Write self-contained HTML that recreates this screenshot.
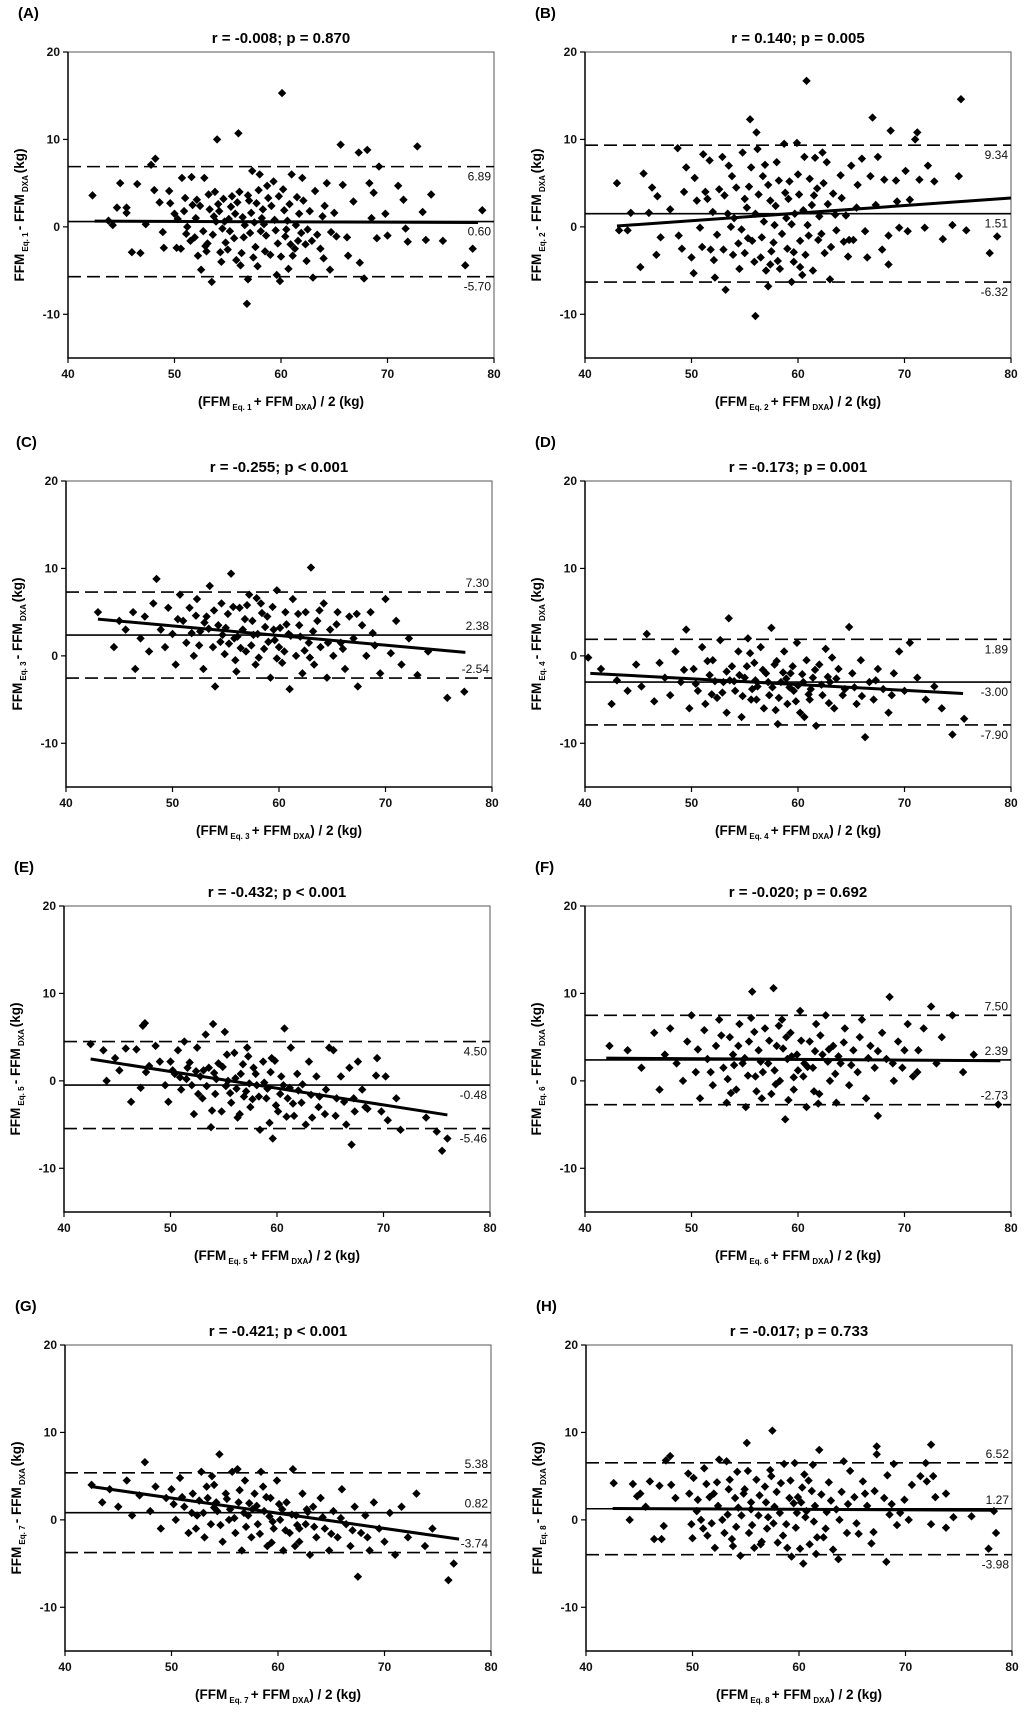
<!DOCTYPE html>
<html><head><meta charset="utf-8">
<style>
html,body{margin:0;padding:0;background:#fff;}
svg{display:block;font-family:"Liberation Sans",Arial,sans-serif;}
</style></head>
<body>
<svg id="fig" width="1024" height="1712" viewBox="0 0 1024 1712" xmlns="http://www.w3.org/2000/svg"></svg>
<script>
const xTicks = [40, 50, 60, 70, 80];
const yTicks = [20, 10, 0, -10];
const panelLetters = ["A","B","C","D","E","F","G","H"];
const titles = ["r = -0.008; p = 0.870","r = 0.140; p = 0.005","r = -0.255; p < 0.001","r = -0.173; p = 0.001","r = -0.432; p < 0.001","r = -0.020; p = 0.692","r = -0.421; p < 0.001","r = -0.017; p = 0.733"];
const meanDiff = [0.60, 1.51, 2.38, -3.00, -0.48, 2.39, 0.82, 1.27];
const upperLoA = [6.89, 9.34, 7.30, 1.89, 4.50, 7.50, 5.38, 6.52];
const lowerLoA = [-5.70, -6.32, -2.54, -7.90, -5.46, -2.73, -3.74, -3.98];
const regStart = [[42.5,0.65],[43,0.1],[43,4.2],[40.5,-2.0],[42.5,2.5],[42,2.6],[42.5,3.8],[42.5,1.3]];
const regEnd = [[78.5,0.5],[80,3.3],[77.5,0.4],[75.5,-4.3],[76,-3.9],[79,2.3],[77,-2.2],[78.5,1.1]];

const ptsA = [[42.3,3.6],[43.8,0.7],[44.2,0.2],[44.6,2.2],[44.9,5],[45.5,1.6],[45.5,2.2],[46,-2.9],[46.5,4.9],[46.8,-3],[47.3,0.3],[47.8,7.1],[48.2,7.8],[48.1,4.2],[48.6,2.8],[48.9,-0.6],[49,-2.4],[49.5,4.1],[49.6,2.7],[50,1.5],[50.2,-2.4],[50.6,-2.5],[50.7,5.6],[51,3.3],[51.2,0],[51.5,-1.6],[51.6,5.7],[51.7,2.5],[52,1],[52.2,-3.3],[52.5,-4.9],[52.7,-0.5],[52.8,5.6],[53,-2.8],[53.3,2],[53.5,-6.3],[53.6,-0.9],[53.8,4],[54,10],[54.2,1.8],[54.4,-4],[54.6,3.2],[55,-2.6],[55.2,-0.5],[55.4,3.5],[55.7,1.5],[56,10.7],[56.2,-4.4],[56.5,-1.2],[56.8,-8.8],[56.9,-6],[57,3],[57.3,6.4],[57.5,0.5],[57.8,-4.5],[58,6],[58.3,2],[58.6,-1],[59,-3.2],[59.3,5.2],[59.6,-5.5],[59.9,-6.2],[60.1,15.3],[60.2,4.3],[60.5,-0.3],[60.7,-4.8],[61,6],[61.3,-2.5],[61.7,1.5],[62,5.6],[62.3,-2],[62.7,1.8],[63,-5.8],[63.2,4.1],[63.7,-2.5],[64,-3.6],[64.3,5],[64.6,-4.9],[65,1.6],[65.2,-1.1],[65.6,9.4],[65.8,4.8],[66.3,-3.3],[66.8,2.9],[67.3,8.5],[67.4,-4.1],[67.8,-5.9],[68.1,8.8],[68.3,5],[68.5,1],[68.7,3.9],[69,-1.3],[69.2,6.9],[69.8,1.5],[70,-1],[71,4.7],[71.5,3.1],[71.7,-0.2],[71.9,-1.7],[72.8,9.2],[73.3,1.7],[73.6,-1.5],[74.1,3.7],[75.2,-1.6],[77.3,-4.4],[78,-2.5],[78.9,1.9],[52.4,2.4],[53.9,0.6],[54.8,-1.8],[55.9,2.8],[56.6,0.2],[57.6,-2.3],[58.8,3.3],[59.4,0.8],[60.8,2.6],[61.9,-0.7],[62.9,-1.6],[63.9,1.2],[55.1,0.9],[56.3,-3],[58.1,-0.5],[59.7,-1.9],[60.3,1.9],[61.5,3.4],[57.2,1.6],[54.3,-2.9],[51.9,-1.2],[50.9,1.8],[64.7,-0.6],[66.2,-1.2],[53.2,3.7],[57.9,4.2],[60,-3.4],
[50.3,0.9],[51.1,-0.8],[52.1,3.1],[53.1,-1.9],[53.7,1.2],[54.5,-0.2],[55.3,2.3],[55.6,-1.3],[56.1,4],[56.4,1.1],[57.1,-0.7],[57.4,-3.5],[58.2,1],[58.5,-2.8],[59.1,2.4],[59.5,-0.4],[60.4,-1.1],[60.6,0.7],[61.1,-3.3],[61.4,0.2],[62.1,3],[62.5,-0.3],[63.4,-0.9],[64.1,2.4],[54.1,2.6],[56.9,3.6],[58.7,4.7],[60.9,-2],[52.9,-2.2],[55.8,-3.8],[59.8,3.5],[62.4,-3.9],[57.7,2.7],[58.4,0.3],[61.6,-1.6],[54.7,0.6]];
const ptsB = [[43,5],[43.2,-0.4],[44,-0.4],[44.3,1.6],[45.2,-4.6],[45.5,6.1],[46,1.6],[46.3,4.5],[46.7,-3.2],[46.8,3.5],[47.1,-1.2],[48,2],[48.7,9],[48.8,-1],[49.1,-2.5],[49.3,4],[49.5,6.8],[50,-3.5],[50.2,-5.3],[50.3,5.6],[50.5,3],[50.8,-0.1],[51,-2.3],[51.1,8.3],[51.3,4],[51.7,7.6],[51.8,-2.6],[52,1.7],[52.1,-3.8],[52.2,-5.8],[52.6,4.3],[52.9,8],[53,-2.6],[53.2,-7.2],[53.5,7],[53.7,0],[53.9,-3.2],[54.2,4.5],[54.5,-4.8],[54.8,8.5],[55,3.2],[55.3,-1.3],[55.5,12.3],[55.6,6.8],[55.9,-4],[56,-10.2],[56.1,10.8],[56.2,8.9],[56.5,-3.5],[56.7,5.8],[57,-5],[57.2,-6.8],[57.4,3],[57.7,-1.8],[58,7.4],[58.3,-4.8],[58.7,9.5],[58.9,1],[59,-2.5],[59.2,5.2],[59.4,-6.3],[59.6,-4],[59.9,9.6],[60.1,3.7],[60.4,-5.5],[60.6,8],[60.8,16.7],[60.9,0.2],[61.1,5.5],[61.4,-5],[61.6,7.9],[61.9,-1.5],[62.3,8.5],[62.5,-3],[62.7,7.4],[63,-6],[63.3,3.8],[63.6,-0.4],[64,5.9],[64.3,-1.7],[64.7,-3.4],[65,7],[65.2,-1.5],[65.6,4.8],[66,7.8],[66.3,-0.5],[66.8,5.8],[67,12.5],[67.5,8],[67.9,-2.6],[68.1,5.4],[68.5,-4.3],[68.7,11],[69.2,5.3],[69.5,-0.1],[70.1,6.4],[70.3,-0.5],[71,10],[71.2,10.8],[71.4,5.4],[71.9,-0.1],[72.2,7],[72.8,5.2],[73.6,-1.4],[74.5,0.2],[75.1,5.8],[75.3,14.6],[75.8,-0.4],[78,-3],[78.7,-1.1],[54,1],[55.2,2.2],[56.8,0.6],[57.9,2.4],[58.5,-0.8],[59.7,1.5],[60.2,-1.6],[61.3,2.5],[62,1.2],[63.1,-2.3],[57.5,-2.8],[55.7,-1.6],[54.4,-1.9],[53.4,1.5],[59.1,3.2],[60.7,-3.2],[61.8,4.4],[58.2,5.3],[56.3,3.7],[64.5,1.3],
[51.5,3.2],[52.4,-0.9],[53.1,3.6],[54.7,-0.3],[55.4,4.6],[56,1.5],[56.6,-1.2],[57.2,4.8],[57.8,0.2],[58.1,-3.9],[58.8,3.9],[59.4,0.3],[60,6],[60.5,1.9],[61,-1],[61.5,3.6],[62.2,-0.8],[62.8,2.6],[63.5,1.4],[64.1,3.3],[64.8,-1.5],[65.5,2.2],[66.5,-3.5],[67.3,2.5],[68.5,-1],[69.3,2.9],[70.5,3.1],[53.8,5.8],[56.9,7.1],[59.6,-2.9],[62.4,5],[57.4,-4.3],[60.2,-4.6],[55,-3]];
const ptsC = [[43,5],[44.5,1],[45,4],[45.6,3],[46.3,5],[46.5,-1.5],[47,2],[47.4,4.5],[47.8,0.5],[48.2,6],[48.5,8.8],[48.9,3],[49.3,1],[49.6,5.5],[50,2.5],[50.3,-1],[50.7,7],[51,4],[51.3,1.5],[51.6,5.5],[52,0],[52.3,6.5],[52.6,2.8],[52.9,-1.5],[53.2,4.5],[53.5,8],[53.8,1],[54,-3.5],[54.3,3.5],[54.6,6],[54.9,0.2],[55.2,4.8],[55.5,9.4],[55.8,2],[56,-1.8],[56.3,5.5],[56.6,3],[56.9,0.5],[57.2,7],[57.5,4],[57.8,-1],[58,2.5],[58.3,6],[58.6,0.8],[58.9,4.5],[59.2,-2.5],[59.5,3],[59.8,7.5],[60,1],[60.3,-0.8],[60.6,5],[60.9,2.5],[61,-3.8],[61.3,6.5],[61.6,0],[61.9,3.5],[62.2,-2],[62.5,5],[62.8,1.5],[63,10.1],[63.3,-1],[63.6,4],[63.9,1],[64.2,6],[64.5,-2.5],[64.8,3],[65.1,0],[65.5,5],[65.8,1.5],[66.2,-1.5],[66.6,4.5],[67,2],[67.4,-3.5],[67.8,3.5],[68.2,0],[68.6,5],[69,1.2],[69.5,-2],[70,6.5],[70.5,0.3],[71,4],[71.5,-1],[72.2,2],[73,-2.2],[74,0.5],[75.8,-4.8],[77.4,-4.1],[56.1,2.2],[57.4,1.2],[58.7,3.3],[59.6,1.8],[60.7,3.6],[54.7,2.4],[53.4,3.1],[62,2.2],[55.3,1.4],[58.1,-0.2],
[50.5,4.2],[51.8,2.6],[52.5,1.2],[53,3.8],[53.9,5.2],[54.5,1.6],[55,3.2],[55.7,5.6],[56.4,0.9],[56.8,4.2],[57.6,2.4],[58.4,4.9],[59,1.6],[59.4,5.6],[60.1,3.2],[60.5,0.5],[61.1,2.3],[61.8,4.8],[62.4,0.6],[63.2,2.8],[63.8,5.2],[64.6,1.5],[65.4,3.6],[66,0.8],[67.3,4.8],[68.8,2.6],[57,5.8],[55.9,-0.5],[59.8,-0.3],[62.9,-0.2],[52.2,4.6],[57.9,6.6]];
const ptsD = [[40.3,-0.2],[41.5,-1.5],[42.5,-5.5],[43,-2.8],[44,-4],[44.8,-1],[45.3,-3.5],[45.8,2.5],[46.5,-5.2],[47,-0.8],[47.5,-2.5],[48,-4.5],[48.5,0.5],[49,-3],[49.5,3],[49.8,-6],[50.2,-1.5],[50.6,-4],[51,1],[51.3,-5.5],[51.7,-2.2],[52,-0.5],[52.4,-4.8],[52.7,1.8],[53,-3],[53.3,-6.5],[53.5,4.3],[53.8,-1.2],[54.1,-4],[54.4,0.5],[54.7,-7],[55,-2.5],[55.3,2],[55.6,-5],[55.9,-0.8],[56.2,-3.5],[56.5,1],[56.8,-6],[57,-2],[57.3,-4.5],[57.5,3.2],[57.8,-1],[58.1,-7.8],[58.4,-3],[58.7,0.5],[59,-5.5],[59.3,-2],[59.6,-4],[59.9,1.5],[60.2,-6.5],[60.5,-3],[60.8,-0.5],[61.1,-5],[61.4,-2.5],[61.7,-8],[62,-1],[62.3,-4.5],[62.6,0.8],[63,-3],[63.4,-6],[63.8,-1.5],[64.2,-4.5],[64.8,3.3],[65.1,-2],[65.5,-5.5],[65.9,-0.5],[66.3,-9.3],[66.7,-3],[67.1,-5],[67.5,-1.5],[68,-3.8],[68.5,-6.5],[69,-2],[69.5,0.5],[70,-4],[70.5,1.5],[71.2,-2.5],[72,-5],[72.8,-3.5],[73.5,-6],[74.5,-9],[75.6,-7.2],[56,-2.8],[57.6,-3.6],[58.9,-2.6],[60,-3.4],[61.2,-3.8],[54.5,-2.2],[55.7,-3.8],[62.8,-2.4],[59.5,-1.2],[58,-0.6],[53.6,-2.8],
[50.4,-3.2],[51.5,-0.6],[52.2,-2.9],[52.9,-4.2],[53.3,-1.8],[54,-2.9],[54.8,-4.6],[55.2,-1.2],[56.1,-5],[56.7,-1.6],[57.2,-3],[58.2,-4.8],[58.6,-1.9],[59.2,-3.6],[59.8,-5.2],[60.4,-2.1],[61,-4.4],[61.6,-1.6],[62.2,-3.3],[62.9,-5.4],[63.6,-2.6],[64.4,-3.8],[65.3,-3.6],[66,-4.6],[67.3,-2.8],[68.8,-4.5],[55.5,0.3],[57.9,-6.2],[60.6,-7],[63.2,-0.2],[49.3,-1.6],[51.9,-4.4]];
const ptsE = [[42.5,4.2],[43.7,3.5],[44,0],[44.8,2.6],[45.2,1.2],[45.8,3.7],[46.3,-2.4],[46.8,3.6],[47.2,-0.8],[47.4,6.3],[47.6,6.6],[47.7,1],[48,1.7],[48.6,4],[49,2.2],[49.5,-0.5],[49.8,-2.4],[50,2.2],[50.4,0.8],[50.7,3.5],[51,-1],[51.3,4.5],[51.6,1.5],[52,-0.5],[52.2,-3.8],[52.5,3.8],[52.8,0.5],[53,-2],[53.3,5.3],[53.6,1.5],[53.8,-5.3],[54,6.5],[54.2,-1.5],[54.5,2],[54.8,-3.5],[55.1,5.6],[55.4,0],[55.7,-2.5],[56,3.2],[56.3,-4.2],[56.6,0.8],[56.9,-1.8],[57.2,3.8],[57.5,-3],[57.8,1.5],[58.1,-0.5],[58.4,-5.6],[58.7,2.2],[59,-2],[59.3,-4.8],[59.6,-6.6],[59.8,2.3],[60.1,-3.5],[60.4,0.5],[60.7,6],[61,-2],[61.3,3.8],[61.6,-4],[61.9,0.8],[62.3,-2.5],[62.7,-5],[63,2.2],[63.3,-4.2],[63.7,0.5],[64,-1.8],[64.5,-3.8],[64.9,3.8],[65.3,3.5],[65.6,-2],[66,0.5],[66.5,-5],[66.8,1.5],[67,-7.3],[67.3,-3.5],[67.6,2.2],[68,-1],[68.5,-3.2],[69.3,0.6],[69.4,2.6],[69.8,-3.5],[70.2,0.5],[70.4,-4.5],[71.2,-2],[71.6,-5.6],[74,-4.2],[75,-5.8],[75.5,-8],[76,-6.6],[55.2,-0.6],[56.1,0.3],[57.1,-1.2],[58,0.8],[59.1,-0.9],[60.3,-1.5],[54.1,0.9],[53.1,1.2],[51.5,0.2],[57.7,-2.1],[61.2,-0.8],[62,-1.1],
[50.2,1.2],[50.9,0.4],[51.8,2.1],[52.4,1.1],[53.4,-0.6],[54.3,0.2],[54.9,1.6],[55.6,-1.4],[56.2,-0.9],[56.8,1.9],[57.4,-0.3],[58.3,-1.8],[58.8,-0.2],[59.4,1],[59.9,-2.8],[60.6,-0.5],[61.5,-2.6],[62.4,-0.4],[63.2,-1.6],[63.9,-3],[64.6,-1],[65.5,-4],[66.3,-2.4],[67.2,-2],[68.3,-3],[55.3,3],[57.3,2.8],[59.5,2.6],[53.9,-3.4],[56.5,-3.8],[60.9,-4.1],[52.6,-1.5]];
const ptsF = [[42.3,4],[44,3.5],[45.3,1.5],[46.5,5.5],[47,-1],[47.5,3],[48,6],[48.6,2],[49.2,0],[49.6,4.5],[50,7.5],[50.4,1],[50.8,-2],[51.2,5.8],[51.5,2.5],[52,-0.5],[52.3,4],[52.6,7],[53,1.5],[53.3,-2.5],[53.6,5],[53.9,3],[54.2,-1],[54.5,6.5],[54.8,2],[55.1,-3],[55.4,4.5],[55.7,10.2],[56,0.5],[56.3,3.5],[56.6,-2],[56.9,6],[57.2,2],[57.5,-1.5],[57.7,10.6],[58,4],[58.3,0],[58.5,7],[58.8,-4.4],[59,2.5],[59.3,5.5],[59.6,-1],[59.9,3],[60.2,8],[60.5,0.5],[60.8,-3],[61.1,4.5],[61.4,1.5],[61.7,6.5],[62,-1.5],[62.3,3],[62.6,7.5],[63,0],[63.3,4],[63.6,-2.5],[64,2],[64.4,6],[64.8,-0.5],[65.2,3.5],[65.6,1],[66,7],[66.4,-2],[66.8,4],[67.2,1.5],[67.5,-4],[67.9,5.5],[68.3,2.5],[68.6,9.6],[69,0],[69.4,4.5],[69.8,1.5],[70.3,6.5],[70.8,0.5],[71.3,3.5],[71.8,6],[72.5,8.5],[73,2],[73.5,5],[74.5,7.5],[75.5,1],[76.5,3],[78.8,-2.7],[56.5,2.2],[57.8,1.2],[59.4,2.8],[60.6,2],[61.6,3.4],[55,2.6],[58.6,3.7],[62.8,2.2],[54,1.8],[63.8,2.8],[60,1.2],
[50.6,3.6],[51.8,1],[52.8,5.2],[53.4,0.2],[54.4,4],[55.3,0.6],[55.9,5.6],[56.7,1],[57.3,4.6],[57.9,-0.4],[58.9,5],[59.6,0.4],[60.3,4.6],[60.9,1.6],[61.5,-1.2],[62.1,5.2],[62.9,3.6],[63.5,0.8],[64.3,4.4],[65,1.8],[65.8,5],[66.6,2.6],[67.5,3.4],[68.9,2],[70,3.5],[71.2,1],[56.1,-1.2],[59.1,-2.2],[61.9,-2.6],[53.7,-1.4],[58.2,6.3],[55.6,7.2]];
const ptsG = [[42.5,4],[43.5,2],[44.2,3.5],[45,1.5],[45.8,4.5],[46.3,0.5],[47,2.8],[47.5,6.6],[48,1],[48.5,3.8],[49,-1],[49.5,2.5],[50,3.5],[50.4,0],[50.8,4.8],[51.2,1.5],[51.6,-1.5],[52,3],[52.4,0.5],[52.8,5.5],[53.1,-2],[53.4,2.5],[53.7,-0.5],[54,4],[54.3,1],[54.5,7.5],[54.8,-2.5],[55.1,3],[55.4,0],[55.7,5.5],[56,-1.5],[56.3,2],[56.6,-3.5],[56.9,4.5],[57.2,0.5],[57.5,-2],[57.8,3],[58.1,-0.5],[58.4,5.5],[58.7,1],[59,-3],[59.3,2.5],[59.6,-1],[59.9,4.5],[60.2,0],[60.5,-3.5],[60.8,2],[61.1,-1.5],[61.4,5.8],[61.7,0.5],[62,-2.5],[62.3,3],[62.6,-0.5],[63,-4],[63.3,1.5],[63.6,-2],[64,2.5],[64.4,-1],[64.8,-3.5],[65.2,1],[65.6,-2],[66,3.5],[66.4,-0.5],[66.8,-3],[67.2,1.5],[67.5,-6.5],[67.8,-1.5],[68.2,0.5],[68.6,-3.5],[69,2],[69.5,-1],[70,-2.5],[70.5,0.8],[71,-4],[71.6,1.5],[72.2,-2],[73,3],[73.8,-3],[74.5,-1],[76,-6.9],[76.5,-5],[55.5,1.2],[56.8,0.8],[58,1.6],[59.2,0.4],[60.4,1.2],[57.3,1.9],[54.2,2],[53,0.8],[61.8,-0.6],[62.8,0.9],
[50.2,1.8],[51,2.6],[51.9,0.8],[52.6,2.2],[53.3,3.8],[54,1.4],[54.6,-0.6],[55.2,2.4],[55.9,0.2],[56.4,3.4],[57,-0.8],[57.6,1.2],[58.3,-1.6],[58.9,2.6],[59.5,-0.2],[60.1,1.8],[60.7,-1.2],[61.3,0.6],[62,-1],[62.7,1.2],[63.4,-0.8],[64.2,0.3],[65,-1.6],[65.9,0.2],[67,-1.2],[68.4,-2],[53.8,5],[56.2,5.8],[59.4,-2.6],[61.6,-3],[52.3,-1],[58.6,3.8]];
const ptsH = [[42.6,4.2],[44.1,0],[44.4,4.1],[44.8,2.7],[45.1,3],[45.6,1.5],[46,4.4],[46.4,-2.2],[46.9,3.9],[47.1,-2.2],[47.3,-0.7],[47.5,6.8],[47.9,7.3],[48,4],[48.4,2.5],[49.6,5.3],[49.7,3],[49.9,-0.5],[50,-2.1],[50.1,4.8],[50.5,2.3],[50.8,0],[51,-1],[51.1,5.9],[51.3,4.1],[51.6,2.6],[51.8,-0.4],[52,3],[52.1,-3.2],[52.3,4.3],[52.5,6.9],[52.8,0],[53,-1.5],[53.2,6.7],[53.4,3.5],[53.7,-2.2],[54,2.5],[54.2,5.5],[54.5,-4.1],[54.6,0.5],[54.9,3.5],[55.1,8.8],[55.3,-1.5],[55.5,2],[55.8,-3.2],[56,4.6],[56.2,0.5],[56.5,-2.5],[56.8,3.8],[57,-1],[57.3,5.7],[57.5,10.2],[57.7,1.5],[58,-2.6],[58.3,4.2],[58.6,6.4],[58.8,-0.5],[59.1,2.5],[59.3,-4.2],[59.6,6.5],[59.8,0.8],[60.1,-3.3],[60.3,3.7],[60.4,-5],[60.7,1],[61,-2.8],[61.3,6.3],[61.6,-3.9],[61.9,8],[62.1,2.9],[62.5,-1],[62.8,4.3],[63.2,-3.4],[63.5,1.2],[63.7,-4.5],[64,3.2],[64.2,6.7],[64.5,-1.5],[64.8,5.6],[65.2,2.6],[65.6,-1.6],[66,4.4],[66.4,1.6],[66.8,-2.7],[67.1,3.3],[67.3,8.4],[67.3,7.5],[68,2.5],[68.2,-4.8],[68.3,5.1],[68.5,0.6],[68.9,6.4],[69.2,-0.6],[69.9,2.3],[70.3,0],[70.6,4],[71.4,5],[71.9,6.5],[72,4.4],[72.4,8.6],[72.4,-0.5],[72.6,5],[72.8,2.6],[73.8,3],[73.8,-0.9],[74.5,0.3],[76.2,0.4],[77.8,-3.3],[78.3,1],[78.5,-1.5],[55.5,1.2],[56.9,2],[58.2,0.8],[59.5,1.9],[60.6,0.3],[61.5,1.6],[62.6,0.9],[57.6,-0.4],[54.3,1.4],[53.3,0.6],[59.9,2.6],[61.2,3.3],
[50.4,1],[51.4,-1.8],[52.4,1.6],[53.5,4.6],[54.1,-0.8],[54.8,3],[55.6,-0.6],[56.3,2.8],[57.1,0.3],[57.9,3.2],[58.5,-1.8],[59.2,4.5],[59.7,-0.9],[60.2,2],[60.9,4.5],[61.4,-0.2],[62.3,-2],[63,2.2],[63.8,0],[64.6,1.8],[65.4,-0.4],[66.2,3],[67,-1.4],[68.7,1.8],[69.5,0.8],[56.4,-2.8],[58.9,-3.2],[61.7,-2],[55.2,5.6],[57.4,5],[60.5,5.2],[53.8,-3]];
const allPts = [ptsA, ptsB, ptsC, ptsD, ptsE, ptsF, ptsG, ptsH];

const NS = "http://www.w3.org/2000/svg";
const svg = document.getElementById("fig");
const panelBox = [[68,52],[585,52],[66,481],[585,481],[64,906],[585,906],[65,1345],[586,1345]];
const labelAbove = [[0,0,0],[0,0,0],[1,1,1],[0,0,0],[0,0,0],[1,1,1],[1,1,1],[1,1,0]];
const PW = 426, PH = 306;

function mk(tag, attrs, parent) {
  const el = document.createElementNS(NS, tag);
  for (const k in attrs) el.setAttribute(k, attrs[k]);
  (parent || svg).appendChild(el);
  return el;
}

for (let p = 0; p < 8; p++) {
  const L = panelBox[p][0], T = panelBox[p][1];
  const g = mk("g", {});
  
  
  const xs = v => L + (v - 40) / 40 * PW;
  const ys = v => T + (20 - v) / 35 * PH;

  const lab = mk("text", {x: L - 50, y: T - 34, "font-size": 15, "font-weight": "bold"}, g);
  lab.textContent = "(" + panelLetters[p] + ")";
  
  

  const tt = mk("text", {x: L + PW / 2, y: T - 9, "font-size": 15, "font-weight": "bold", "text-anchor": "middle"}, g);
  tt.textContent = titles[p];
  
  

  const fr = mk("rect", {x: L, y: T, width: PW, height: PH, fill: "none", stroke: "#555", "stroke-width": 1}, g);
  
  
  const ax = mk("path", {d: `M${L},${T}V${T+PH}H${L+PW}`, fill: "none", stroke: "#000", "stroke-width": 1.5}, g);
  
  

  xTicks.forEach(v => {
    mk("line", {x1: xs(v), x2: xs(v), y1: T + PH, y2: T + PH + 5, stroke: "#000", "stroke-width": 1.2}, g);
    const t = mk("text", {x: xs(v), y: T + PH + 20, "font-size": 12, "font-weight": "bold", "text-anchor": "middle", fill: "#111"}, g);
    t.textContent = v;
    
    
  });
  yTicks.forEach(v => {
    mk("line", {x1: L - 5, x2: L, y1: ys(v), y2: ys(v), stroke: "#000", "stroke-width": 1.2}, g);
    const t = mk("text", {x: L - 8, y: ys(v) + 4, "font-size": 12, "font-weight": "bold", "text-anchor": "end", fill: "#111"}, g);
    t.textContent = v;
    
    
  });

  const n = p + 1;
  const xt = mk("text", {x: L + PW / 2, y: T + PH + 48, "font-size": 13.5, "font-weight": "bold", "text-anchor": "middle"}, g);
  xt.innerHTML = `(FFM<tspan font-size="8" dy="4"> Eq. ${n} </tspan><tspan dy="-4">+ FFM</tspan><tspan font-size="8" dy="4"> DXA</tspan><tspan dy="-4">) / 2 (kg)</tspan>`;
  
  
  const cy = T + PH / 2 + 10;
  const yt = mk("text", {x: 0, y: 0, "font-size": 13.5, "font-weight": "bold", "text-anchor": "middle", transform: `translate(${L - 44},${cy}) rotate(-90)`}, g);
  yt.innerHTML = `FFM<tspan font-size="8" dy="4"> Eq. ${n} </tspan><tspan dy="-4">- FFM</tspan><tspan font-size="8" dy="4"> DXA </tspan><tspan dy="-4">(kg)</tspan>`;
  
  

  allPts[p].forEach(pt => {
    const cx = xs(pt[0]), cyy = ys(pt[1]), r = 4.2;
    const d = mk("path", {d: `M${cx},${cyy-r}L${cx+r},${cyy}L${cx},${cyy+r}L${cx-r},${cyy}Z`, fill: "#000"}, g);
    
    
  });

  const lines = [upperLoA[p], meanDiff[p], lowerLoA[p]];
  const names = ['upper-loa-line', 'mean-bias-line', 'lower-loa-line'];
  lines.forEach((v, i) => {
    const ln = mk("line", {x1: L, x2: L + PW, y1: ys(v), y2: ys(v), stroke: "#000", "stroke-width": 1.6}, g);
    if (i !== 1) ln.setAttribute("stroke-dasharray", "13,6");
    
    
    const above = labelAbove[p][i];
    const t = mk("text", {x: L + PW - 3, y: ys(v) + (above ? -5 : 14), "font-size": 12, "text-anchor": "end", fill: "#111"}, g);
    t.textContent = v.toFixed(2);
    
    
  });

  const rl = mk("line", {x1: xs(regStart[p][0]), y1: ys(regStart[p][1]), x2: xs(regEnd[p][0]), y2: ys(regEnd[p][1]), stroke: "#000", "stroke-width": 3}, g);
  
  
}
</script>
</body></html>
